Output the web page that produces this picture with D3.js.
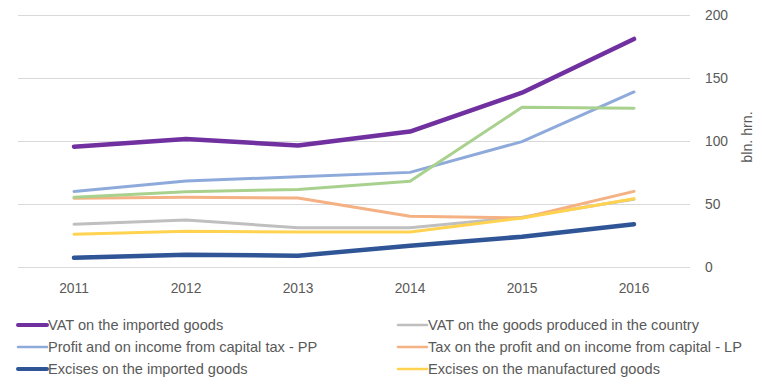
<!DOCTYPE html>
<html>
<head>
<meta charset="utf-8">
<script src="https://cdn.jsdelivr.net/npm/d3@7"></script>
<style>
  html, body { margin: 0; padding: 0; background: #fff; }
  svg { display: block; font-family: 'Liberation Sans', Arial, sans-serif; }
</style>
</head>
<body>
<div id="chart"></div>
<script>
const years = ['2011', '2012', '2013', '2014', '2015', '2016']
const yTicks = [0, 50, 100, 150, 200]

const vatImported = [95.5, 101.5, 96.5, 107.5, 138.3, 181]
const vatDomestic = [33.9, 37.3, 31.2, 31.2, 39.5, 53.8]
const profitPP = [60, 68.2, 71.7, 75.1, 99.5, 138.9]
const profitLP = [54.5, 55.3, 54.8, 40.2, 38.9, 60]
const excisesImported = [7.4, 9.8, 9, 16.9, 24, 34]
const excisesDomestic = [26, 28.3, 27.8, 27.8, 38.9, 54.2]
const unlabeled = [55.3, 59.8, 61.6, 68, 126.7, 126]

// drawing order, later ones on top
const series = [
  { name: 'VAT on the imported goods', values: vatImported, color: '#7030a0', width: 4.5, legend: [0, 0] },
  { name: 'VAT on the goods produced in the country', values: vatDomestic, color: '#bfbfbf', width: 3, legend: [1, 0] },
  { name: 'Profit and on income from capital tax - PP', values: profitPP, color: '#8eaadb', width: 3, legend: [0, 1] },
  { name: 'Tax on the profit and on income from capital - LP', values: profitLP, color: '#f4b183', width: 3, legend: [1, 1] },
  { name: 'Excises on the imported goods', values: excisesImported, color: '#2f5597', width: 4.5, legend: [0, 2] },
  { name: 'Excises on the manufactured goods', values: excisesDomestic, color: '#ffd34f', width: 3, legend: [1, 2] },
  { name: '', values: unlabeled, color: '#a9d18e', width: 3, legend: null }
]

const width = 763
const height = 384
const textColor = '#595959'
const plot = { left: 18, right: 690, top: 15, bottom: 267 }

const x = d3.scaleBand().domain(years).range([plot.left, plot.right])
const y = d3.scaleLinear().domain([0, 200]).range([plot.bottom, plot.top])

const svg = d3.select('#chart')
  .append('svg')
  .attr('width', width)
  .attr('height', height)

// gridlines
svg.append('g')
  .selectAll('line')
  .data(yTicks)
  .join('line')
  .attr('x1', plot.left)
  .attr('x2', plot.right)
  .attr('y1', (d) => Math.round(y(d)) + 0.5)
  .attr('y2', (d) => Math.round(y(d)) + 0.5)
  .attr('stroke', '#d9d9d9')
  .attr('stroke-width', 1)

// right-hand value labels
svg.append('g')
  .selectAll('text')
  .data(yTicks)
  .join('text')
  .attr('x', 705)
  .attr('y', (d) => y(d))
  .attr('dy', '0.36em')
  .attr('fill', textColor)
  .attr('font-size', 13.8)
  .text((d) => d)

svg.append('text')
  .attr('transform', `translate(752,137) rotate(-90)`)
  .attr('text-anchor', 'middle')
  .attr('fill', textColor)
  .attr('font-size', 14.2)
  .text('bln. hrn.')

// year labels
svg.append('g')
  .selectAll('text')
  .data(years)
  .join('text')
  .attr('x', (d) => x(d) + x.bandwidth() / 2)
  .attr('y', 293)
  .attr('text-anchor', 'middle')
  .attr('fill', textColor)
  .attr('font-size', 13.8)
  .text((d) => d)

const line = d3.line()
  .x((d, i) => x(years[i]) + x.bandwidth() / 2)
  .y((d) => y(d))

svg.append('g')
  .selectAll('path')
  .data(series)
  .join('path')
  .attr('d', (d) => line(d.values))
  .attr('fill', 'none')
  .attr('stroke', (d) => d.color)
  .attr('stroke-width', (d) => d.width)
  .attr('stroke-linejoin', 'round')
  .attr('stroke-linecap', 'round')

// legend
const legendCols = [18, 398]
const legendRows = [325, 347, 369]
const legendItems = svg.append('g')
  .selectAll('g')
  .data(series.filter((d) => d.legend))
  .join('g')
  .attr('transform', (d) => `translate(${legendCols[d.legend[0]]},${legendRows[d.legend[1]]})`)

legendItems.append('line')
  .attr('x1', 0)
  .attr('x2', 29)
  .attr('y1', 0)
  .attr('y2', 0)
  .attr('stroke', (d) => d.color)
  .attr('stroke-width', (d) => d.width - 0.5)
  .attr('stroke-linecap', 'round')

legendItems.append('text')
  .attr('x', 30)
  .attr('y', 0)
  .attr('dy', '0.35em')
  .attr('fill', textColor)
  .attr('font-size', 14.6)
  .text((d) => d.name)
</script>
</body>
</html>
